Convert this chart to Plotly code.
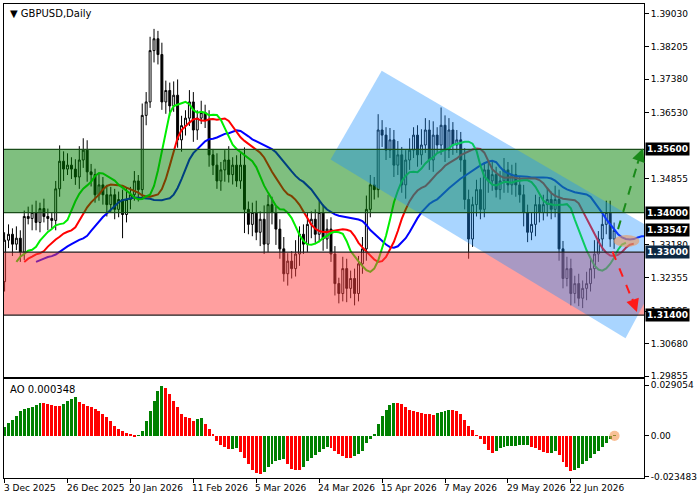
import plotly.graph_objects as go
from plotly.subplots import make_subplots

closes = [1.3330,1.3345,1.3320,1.3335,1.3300,1.3390,1.3385,1.3400,1.3375,1.3410,
          1.3390,1.3385,1.3380,1.3460,1.3530,1.3510,1.3520,1.3510,1.3490,1.3533,
          1.3558,1.3503,1.3496,1.3445,1.3470,1.3445,1.3420,1.3445,1.3408,1.3433,
          1.3395,1.3433,1.3445,1.3480,1.3458,1.3646,1.3680,1.3810,1.3840,1.3800,
          1.3680,1.3709,1.3670,1.3697,1.3584,1.3620,1.3639,1.3680,1.3609,1.3639,
          1.3653,1.3634,1.3546,1.3520,1.3480,1.3508,1.3533,1.3496,1.3520,1.3480,
          1.3520,1.3408,1.3370,1.3400,1.3350,1.3383,1.3320,1.3420,1.3400,1.3358,
          1.3308,1.3245,1.3277,1.3258,1.3295,1.3345,1.3320,1.3370,1.3383,1.3345,
          1.3400,1.3333,1.3358,1.3295,1.3220,1.3195,1.3258,1.3208,1.3233,1.3195,
          1.3270,1.3308,1.3408,1.3470,1.3458,1.3609,1.3596,1.3558,1.3584,1.3520,
          1.3546,1.3470,1.3533,1.3558,1.3596,1.3546,1.3571,1.3609,1.3533,1.3596,
          1.3571,1.3621,1.3558,1.3609,1.3571,1.3584,1.3533,1.3433,1.3333,1.3420,
          1.3458,1.3408,1.3508,1.3480,1.3496,1.3458,1.3480,1.3508,1.3470,1.3496,
          1.3470,1.3445,1.3400,1.3350,1.3370,1.3420,1.3400,1.3420,1.3433,1.3408,
          1.3433,1.3308,1.3233,1.3258,1.3195,1.3220,1.3183,1.3208,1.3220,1.3258,
          1.3295,1.3333,1.3370,1.3400,1.3333,1.33547]
first_open = 1.3225
hi_pips = [20,25,15,30,20,15,25,20,30,15, 25,20,15,20,40,25,30,20,25,35,
           30,25,20,15,30,20,25,20,15,20, 25,30,20,25,15,30,25,35,25,20,
           30,25,20,35,40,25,20,30,25,20, 30,20,25,15,30,20,25,35,20,25,
           30,45,20,25,30,20,35,25,20,15, 25,30,20,25,35,20,25,30,20,25,
           30,20,25,30,20,15,30,25,20,25, 20,30,35,25,20,40,25,20,30,25,
           35,20,25,30,20,25,40,30,25,35, 20,45,25,30,20,25,20,30,25,20,
           25,30,20,25,35,20,25,30,20,25, 30,20,25,20,30,25,20,25,30,20,
           35,25,20,30,25,20,25,20,30,25, 35,20,25,30,30,20]
lo_pips = [25,20,30,15,25,20,15,30,20,25, 15,30,20,25,20,30,15,25,20,30,
           20,25,30,20,15,25,30,20,25,20, 60,20,25,15,30,20,25,15,30,25,
           20,30,25,15,20,30,25,20,30,25, 15,20,30,25,20,25,30,20,25,15,
           20,60,25,30,20,35,25,20,30,40, 25,20,30,25,20,30,25,20,35,25,
           20,30,25,20,30,25,20,35,25,30, 20,25,30,20,25,20,30,25,20,30,
           25,20,35,25,20,30,25,20,25,30, 20,25,30,20,25,20,30,25,50,20,
           30,25,20,30,25,20,25,30,20,25, 30,20,35,25,20,30,25,20,30,25,
           20,30,25,20,30,25,20,25,30,20, 25,20,30,25,20,25]
ao = [0.00475,0.00703,0.00893,0.0114,0.01425,0.0152,0.01577,0.01653,0.01748,0.01862,
      0.0185,0.01805,0.01748,0.01729,0.0171,0.01843,0.01995,0.02109,0.02223,0.01957,
      0.01805,0.0171,0.01615,0.0152,0.01387,0.01235,0.01045,0.00817,0.0057,0.0038,
      0.00285,0.00133,0.00057,-0.00057,-0.00019,0.00285,0.00817,0.01387,0.01995,0.02565,
      0.0285,0.02755,0.02413,0.01995,0.01653,0.01235,0.01083,0.01007,0.00855,0.0095,
      0.00988,0.00665,0.0038,0.00038,-0.00285,-0.00513,-0.00665,-0.00779,-0.00741,-0.00703,
      -0.0095,-0.01273,-0.01615,-0.01995,-0.02147,-0.02223,-0.0209,-0.01805,-0.01615,-0.01463,
      -0.01387,-0.0133,-0.01653,-0.01919,-0.01995,-0.01996,-0.01805,-0.01463,-0.01273,-0.0114,
      -0.0095,-0.0076,-0.00627,-0.00703,-0.00855,-0.01045,-0.01197,-0.01273,-0.01311,-0.01197,
      -0.01045,-0.00855,-0.00437,-0.0019,0.00095,0.00665,0.0114,0.01463,0.01767,0.019,
      0.01862,0.01805,0.01653,0.01463,0.01387,0.01349,0.01273,0.01235,0.01216,0.01197,
      0.01273,0.0133,0.01387,0.01463,0.01444,0.01425,0.01235,0.00893,0.0057,0.00323,
      -0.0002,-0.0019,-0.00475,-0.00817,-0.00969,-0.00855,-0.00703,-0.00627,-0.00608,-0.00589,
      -0.0057,-0.00551,-0.00532,-0.00513,-0.00627,-0.00703,-0.00817,-0.00931,-0.01007,-0.00969,
      -0.00855,-0.0114,-0.0152,-0.01805,-0.02033,-0.01995,-0.01843,-0.01653,-0.01463,-0.01273,
      -0.01083,-0.00855,-0.00665,-0.00437,-0.0019,0.000348]
date_labels = ["3 Dec 2025","26 Dec 2025","20 Jan 2026","11 Feb 2026","5 Mar 2026",
               "24 Mar 2026","15 Apr 2026","7 May 2026","29 May 2026","22 Jun 2026"]
price_ticks = [1.39030,1.38205,1.37380,1.36530,1.34855,1.33180,1.32355,1.31505,1.30680,1.29855]
levels = [1.3560,1.3400,1.3300,1.3140]
last_price = 1.33547

n = len(closes)
idx = list(range(n))
opens = [first_open] + closes[:-1]
highs = [max(o, c) + h / 10000 for o, c, h in zip(opens, closes, hi_pips)]
lows = [min(o, c) - l / 10000 for o, c, l in zip(opens, closes, lo_pips)]
med = [(h + l) / 2 for h, l in zip(highs, lows)]

def smma(vals, p):
    out = [vals[0]]
    for v in vals[1:]:
        out.append((out[-1] * (p - 1) + v) / p)
    return out

fig = make_subplots(rows=2, cols=1, shared_xaxes=True)
fig.add_trace(go.Candlestick(x=idx, open=opens, high=highs, low=lows, close=closes,
    increasing=dict(line=dict(color="black", width=1), fillcolor="white"),
    decreasing=dict(line=dict(color="black", width=1), fillcolor="black"),
    whiskerwidth=0, showlegend=False), row=1, col=1)
for p, sh, col in [(13, 8, "#0000ff"), (8, 5, "#ff0000"), (5, 3, "#00ee00")]:
    s = smma(med, p)
    fig.add_trace(go.Scatter(x=[i + sh for i in idx], y=s, mode="lines",
                             line=dict(color=col, width=2), showlegend=False), row=1, col=1)
colors = ["#008000" if i == 0 or ao[i] > ao[i - 1] else "#ff0000" for i in range(n)]
fig.add_trace(go.Bar(x=idx, y=ao, marker=dict(color=colors, line_width=0), width=0.75,
                     showlegend=False), row=2, col=1)

fig.add_shape(type="rect", xref="x", yref="y", x0=-2, x1=170, y0=levels[1], y1=levels[0],
              fillcolor="rgb(0,128,0)", opacity=0.5, line_width=0, layer="above")
fig.add_shape(type="rect", xref="x", yref="y", x0=-2, x1=170, y0=levels[3], y1=levels[2],
              fillcolor="rgb(255,64,64)", opacity=0.5, line_width=0, layer="above")
fig.add_shape(type="path", xref="x", yref="y",
              path="M 82.9 1.3534 L 95.9 1.3759 L 170.9 1.3323 L 157.9 1.3082 Z",
              fillcolor="rgb(30,144,255)", opacity=0.38, line_width=0, layer="above")
for lv, lc in zip(levels, ["#1a4d1a", "#1a4d1a", "#222222", "#222222"]):
    fig.add_shape(type="line", xref="x", yref="y", x0=-2, x1=170, y0=lv, y1=lv,
                  line=dict(color=lc, width=1.2), layer="above")
fig.add_shape(type="line", xref="x", yref="y", x0=156, y0=1.3358, x1=161.6, y1=1.3545,
              line=dict(color="#1a8a1a", width=2, dash="dash"), layer="above")
fig.add_annotation(x=162.3, y=1.3562, ax=160.8, ay=1.3520, xref="x", yref="y", axref="x", ayref="y",
                   text="", showarrow=True, arrowhead=2, arrowsize=1.3, arrowwidth=2, arrowcolor="#1a8a1a")
fig.add_shape(type="line", xref="x", yref="y", x0=154.6, y0=1.3301, x1=160.2, y1=1.3165,
              line=dict(color="#ff1a1a", width=2, dash="dash"), layer="above")
fig.add_annotation(x=160.8, y=1.3148, ax=159.5, ay=1.3185, xref="x", yref="y", axref="x", ayref="y",
                   text="", showarrow=True, arrowhead=2, arrowsize=1.3, arrowwidth=2, arrowcolor="#ff1a1a")
fig.add_shape(type="circle", xref="x", yref="y", x0=154.9, x1=161.4, y0=1.3313, y1=1.3343,
              fillcolor="rgba(240,150,90,0.6)", line_width=0, layer="above")
fig.add_shape(type="circle", xref="x2", yref="y2", x0=153.8, x1=156.4, y0=-0.0029, y1=0.0029,
              fillcolor="rgba(245,150,80,0.6)", line_width=0, layer="above")

axis_font = dict(family="DejaVu Sans", size=9, color="black")
fig.update_layout(width=700, height=500, margin=dict(l=3, r=46, t=3, b=22),
                  plot_bgcolor="white", paper_bgcolor="white", bargap=0,
                  font=axis_font)
fig.update_xaxes(range=[-0.15, 162.6], showgrid=False, showline=True, mirror=True,
                 linecolor="black", linewidth=1, rangeslider_visible=False, zeroline=False)
fig.update_xaxes(showticklabels=False, row=1, col=1)
fig.update_xaxes(tickvals=[16 * k for k in range(len(date_labels))], ticktext=[""] * len(date_labels),
                 ticks="outside", ticklen=4, tickcolor="black", row=2, col=1)
fig.update_layout(
    yaxis=dict(domain=[0.2126, 1.0], range=[1.2983, 1.3928], side="right",
               tickvals=price_ticks, ticktext=[f"{v:.5f}" for v in price_ticks],
               ticks="outside", ticklen=4, tickcolor="black", showgrid=False, zeroline=False,
               showline=True, mirror=True, linecolor="black"),
    yaxis2=dict(domain=[0.0, 0.2084], range=[-0.0242, 0.0325], side="right",
                tickvals=[0.029054, 0, -0.023483], ticktext=["0.029054", "0.00", "-0.023483"],
                ticks="outside", ticklen=4, tickcolor="black", showgrid=False, zeroline=False,
                showline=True, mirror=True, linecolor="black"))
for k, lab in enumerate(date_labels):
    fig.add_annotation(x=16 * k, y=0, xref="x2", yref="paper", yshift=-3, xanchor="left",
                       yanchor="top", text=lab, showarrow=False, font=axis_font, xshift=-3)
for lv, bg in [(1.3560, "black"), (1.3400, "black"), (last_price, "black"),
               (1.3300, "#0b2742"), (1.3140, "black")]:
    fig.add_annotation(x=1.0, y=lv, xref="paper", yref="y", xanchor="left", xshift=1,
                       text=f"<b>{lv:.5f}</b>", showarrow=False, bgcolor=bg, borderpad=1,
                       font=dict(family="DejaVu Sans", size=9, color="white"))
fig.add_annotation(x=0, y=1, xref="paper", yref="paper", xanchor="left", yanchor="top",
                   xshift=4, yshift=-2, text="▼ GBPUSD,Daily", showarrow=False,
                   font=dict(family="DejaVu Sans", size=10, color="black"))
fig.add_annotation(x=0, y=0.2084, xref="paper", yref="paper", xanchor="left", yanchor="top",
                   xshift=4, yshift=-3, text=f"AO {ao[-1]:.6f}", showarrow=False,
                   font=dict(family="DejaVu Sans", size=10, color="black"))
fig.write_html("out.html", config={"displayModeBar": False},
               post_script="document.body.style.margin='0';")
